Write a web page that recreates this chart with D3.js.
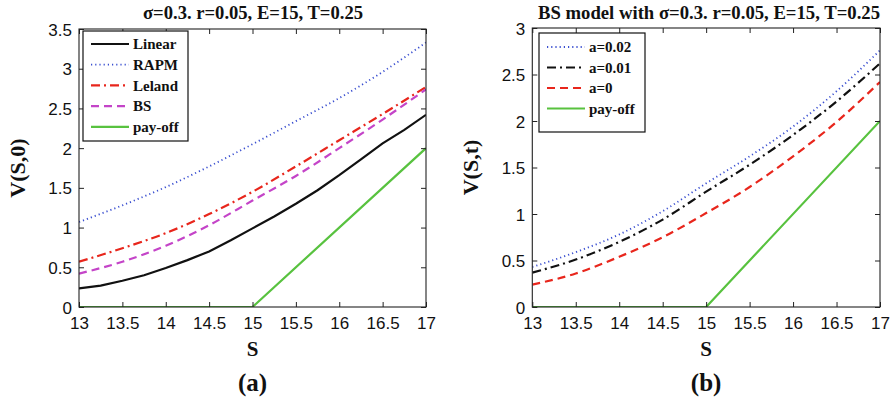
<!DOCTYPE html>
<html>
<head>
<meta charset="utf-8">
<script src="https://cdn.jsdelivr.net/npm/d3@7"></script>
<style>
  body { margin: 0; background: #fff; }
  svg text { fill: #111; }
  .tick-lbl { font-family: "Liberation Sans", Arial, sans-serif; font-size: 17px; }
  .serif { font-family: "Liberation Serif", "Times New Roman", serif; font-weight: bold; }
</style>
</head>
<body>
<svg id="chart" width="893" height="401"></svg>
<script>
/* ── data ─────────────────────────────────────────────────────────── */

const sCoarse = [13, 13.5, 14, 14.5, 15, 15.5, 16, 16.5, 17];
const sFine   = [13, 13.25, 13.5, 13.75, 14, 14.25, 14.5, 14.75, 15,
                 15.25, 15.5, 15.75, 16, 16.25, 16.5, 16.75, 17];

// panel (a)
const linearV = [0.235, 0.27, 0.33, 0.40, 0.49, 0.59, 0.70, 0.84, 0.99,
                 1.14, 1.30, 1.47, 1.66, 1.86, 2.06, 2.23, 2.42];
const rapmV   = [1.07, 1.28, 1.51, 1.77, 2.05, 2.34, 2.63, 2.96, 3.33];
const lelandV = [0.57, 0.74, 0.93, 1.17, 1.45, 1.77, 2.10, 2.43, 2.77];
const bsV     = [0.42, 0.57, 0.77, 1.03, 1.34, 1.65, 2.00, 2.36, 2.74];

// panel (b)
const a002V = [0.43, 0.59, 0.78, 1.03, 1.33, 1.62, 1.94, 2.32, 2.76];
const a001V = [0.37, 0.51, 0.70, 0.94, 1.24, 1.53, 1.85, 2.21, 2.62];
const a0V   = [0.24, 0.36, 0.54, 0.75, 1.01, 1.29, 1.62, 1.99, 2.42];

const strike = 15;
const payS = [13, 15, 17];
const payV = payS.map(s => Math.max(s - strike, 0));

const xTicks  = [13, 13.5, 14, 14.5, 15, 15.5, 16, 16.5, 17];
const yTicksA = [0, 0.5, 1, 1.5, 2, 2.5, 3, 3.5];
const yTicksB = [0, 0.5, 1, 1.5, 2, 2.5, 3];

/* ── styles ───────────────────────────────────────────────────────── */

const C = {
  black: '#111', blue: '#3a4fd0', red: '#e8261c', magenta: '#c444c8', green: '#58c23f'
};
const DASH = { solid: null, dot: '1.2,3', dash: '8,5', dashdot: '9,4,2,4' };

const zip = (xs, ys) => xs.map((x, i) => [x, ys[i]]);

/* ── panel builder ────────────────────────────────────────────────── */

function drawPanel(svg, cfg) {
  const { left, right, top, bottom } = cfg.box;
  const x = d3.scaleLinear().domain([13, 17]).range([left, right]);
  const y = d3.scaleLinear().domain(cfg.yDomain).range([bottom, top]);
  const g = svg.append('g');

  // curves (clipped to plot)
  const clipId = 'clip-' + cfg.id;
  svg.append('clipPath').attr('id', clipId)
    .append('rect').attr('x', left).attr('y', top)
    .attr('width', right - left).attr('height', bottom - top);

  const gLines = g.append('g').attr('clip-path', `url(#${clipId})`);
  for (const s of cfg.series) {
    const line = d3.line()
      .x(d => x(d[0])).y(d => y(d[1]))
      .curve(s.curve || d3.curveLinear);
    gLines.append('path')
      .datum(s.data)
      .attr('d', line)
      .attr('fill', 'none')
      .attr('stroke', s.color)
      .attr('stroke-width', s.width || 2.2)
      .attr('stroke-dasharray', DASH[s.dash]);
  }

  // axes with inward ticks on all four sides
  const tk = 5;
  g.append('g').attr('transform', `translate(0,${bottom})`)
    .call(d3.axisBottom(x).tickValues(xTicks).tickSize(-tk).tickPadding(10).tickFormat(d3.format('')))
    .call(a => a.select('.domain').remove())
    .call(a => a.selectAll('text').attr('class', 'tick-lbl').attr('fill', '#111'));
  g.append('g').attr('transform', `translate(0,${top})`)
    .call(d3.axisTop(x).tickValues(xTicks).tickSize(-tk).tickFormat(''))
    .call(a => a.select('.domain').remove());
  g.append('g').attr('transform', `translate(${left},0)`)
    .call(d3.axisLeft(y).tickValues(cfg.yTicks).tickSize(-tk).tickPadding(7).tickFormat(d3.format('')))
    .call(a => a.select('.domain').remove())
    .call(a => a.selectAll('text').attr('class', 'tick-lbl').attr('fill', '#111').attr('dy', '0.36em'));
  g.append('g').attr('transform', `translate(${right},0)`)
    .call(d3.axisRight(y).tickValues(cfg.yTicks).tickSize(-tk).tickFormat(''))
    .call(a => a.select('.domain').remove());
  g.selectAll('.tick line').attr('stroke', '#222');

  g.append('rect')
    .attr('x', left).attr('y', top)
    .attr('width', right - left).attr('height', bottom - top)
    .attr('fill', 'none').attr('stroke', '#222').attr('stroke-width', 1.1);

  // legend
  const L = cfg.legend;
  g.append('rect')
    .attr('x', L.x).attr('y', L.y).attr('width', L.w).attr('height', L.h)
    .attr('fill', '#fff').attr('stroke', '#111').attr('stroke-width', 1.2);
  cfg.series.forEach((s, i) => {
    const ly = L.y + L.first + i * L.step;
    g.append('line')
      .attr('x1', L.x + L.lx0).attr('x2', L.x + L.lx1)
      .attr('y1', ly).attr('y2', ly)
      .attr('stroke', s.color).attr('stroke-width', s.width || 2.2)
      .attr('stroke-dasharray', DASH[s.dash]);
    g.append('text').attr('class', 'serif')
      .attr('x', L.x + L.tx).attr('y', ly).attr('dy', '0.35em')
      .attr('font-size', 15)
      .text(s.name);
  });

  // titles and labels
  const cx = (left + right) / 2;
  g.append('text').attr('class', 'serif')
    .attr('x', cfg.titleX).attr('y', 19).attr('text-anchor', 'middle')
    .attr('font-size', 18)
    .attr('textLength', cfg.titleW).attr('lengthAdjust', 'spacingAndGlyphs')
    .text(cfg.title);
  g.append('text').attr('class', 'serif')
    .attr('x', cx).attr('y', 356).attr('text-anchor', 'middle')
    .attr('font-size', 21).text('S');
  g.append('text').attr('class', 'serif')
    .attr('transform', `translate(${cfg.ylabX},${(top + bottom) / 2}) rotate(-90)`)
    .attr('text-anchor', 'middle').attr('font-size', 22).text(cfg.ylabel);
  g.append('text').attr('class', 'serif')
    .attr('x', cx).attr('y', 391).attr('text-anchor', 'middle')
    .attr('font-size', 25).text(cfg.tag);
}

/* ── render ───────────────────────────────────────────────────────── */

const svg = d3.select('#chart');

drawPanel(svg, {
  id: 'a',
  box: { left: 79, right: 426, top: 29, bottom: 307 },
  yDomain: [0, 3.5], yTicks: yTicksA,
  title: 'σ=0.3. r=0.05, E=15, T=0.25', titleX: 253, titleW: 220,
  ylabel: 'V(S,0)', ylabX: 25, tag: '(a)',
  legend: { x: 83, y: 31, w: 105, h: 110, first: 13, step: 20.7, lx0: 8, lx1: 46, tx: 50 },
  series: [
    { name: 'Linear', data: zip(sFine, linearV),   color: C.black,   dash: 'solid' },
    { name: 'RAPM',   data: zip(sCoarse, rapmV),   color: C.blue,    dash: 'dot', width: 1.8, curve: d3.curveMonotoneX },
    { name: 'Leland', data: zip(sCoarse, lelandV), color: C.red,     dash: 'dashdot', curve: d3.curveMonotoneX },
    { name: 'BS',     data: zip(sCoarse, bsV),     color: C.magenta, dash: 'dash', curve: d3.curveMonotoneX },
    { name: 'pay-off', data: zip(payS, payV),      color: C.green,   dash: 'solid' }
  ]
});

drawPanel(svg, {
  id: 'b',
  box: { left: 532.3, right: 880, top: 28, bottom: 307 },
  yDomain: [0, 3], yTicks: yTicksB,
  title: 'BS model with σ=0.3. r=0.05, E=15, T=0.25', titleX: 709, titleW: 342,
  ylabel: 'V(S,t)', ylabX: 478, tag: '(b)',
  legend: { x: 539, y: 33, w: 106, h: 99, first: 14, step: 20.5, lx0: 8, lx1: 46, tx: 50 },
  series: [
    { name: 'a=0.02',  data: zip(sCoarse, a002V), color: C.blue,  dash: 'dot', width: 1.8, curve: d3.curveMonotoneX },
    { name: 'a=0.01',  data: zip(sCoarse, a001V), color: C.black, dash: 'dashdot', curve: d3.curveMonotoneX },
    { name: 'a=0',     data: zip(sCoarse, a0V),   color: C.red,   dash: 'dash', curve: d3.curveMonotoneX },
    { name: 'pay-off', data: zip(payS, payV),     color: C.green, dash: 'solid' }
  ]
});
</script>
</body>
</html>
